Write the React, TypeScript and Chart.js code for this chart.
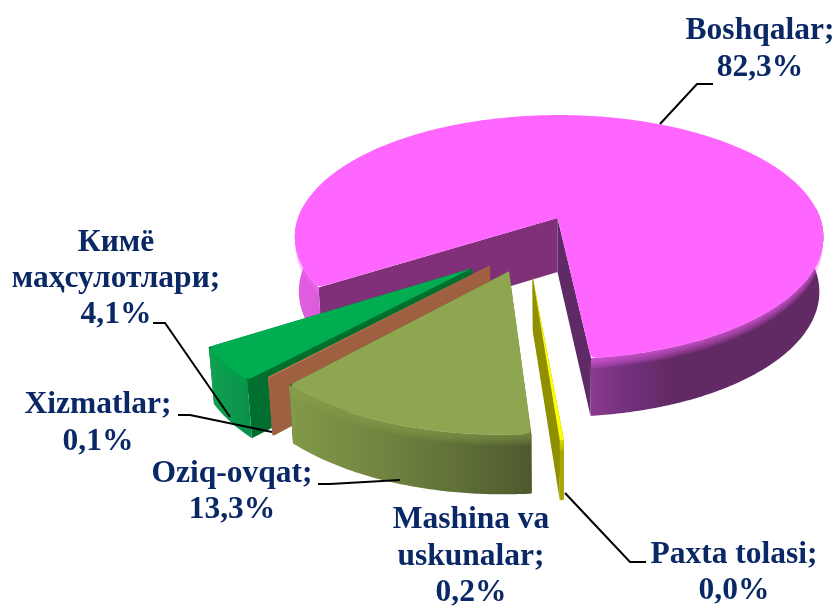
import React, { useEffect, useRef } from "react";
import { Chart, registerables } from "chart.js";

Chart.register(...registerables);

const categories = ["Boshqalar", "Paxta tolasi", "Mashina va uskunalar", "Oziq-ovqat", "Xizmatlar", "Кимё маҳсулотлари"];
const shares = [82.3, 0.0, 0.2, 13.3, 0.1, 4.1];

const labelLines = [
  ["Boshqalar;"],
  ["Paxta tolasi;"],
  ["Mashina va", "uskunalar;"],
  ["Oziq-ovqat;"],
  ["Xizmatlar;"],
  ["Кимё", "маҳсулотлари;"],
];

const explosion = [0.258, 0.22, 0.22, 0.197, 0.196, 0.255];
const topColors = ["#FF66FF", "#FFFF00", "#FFFF00", "#8EA64F", "#C5794F", "#00AD50"];
const wallStart = ["#7F3078", "#8F8F00", "#8F8F00", "#6B7D3D", "#9E6040", "#006F30"];
const wallEnd = ["#5F2A65", "#8F8F00", "#8F8F00", "#4F5C30", "#9E6040", "#006F30"];
const rimStops: [number, string][][] = [
  [[0, "#E25FE2"], [0.55, "#8E3C92"], [0.64, "#70307A"], [0.72, "#622A64"], [1, "#622A64"]],
  [[0, "#A8A800"], [1, "#A8A800"]],
  [[0, "#A8A800"], [1, "#A8A800"]],
  [[0, "#839A49"], [0.5, "#6B7D3D"], [1, "#4D5A2E"]],
  [[0, "#A06242"], [1, "#A06242"]],
  [[0, "#10A252"], [1, "#0A9149"]],
];

const labelCentres = [
  [760, 31, 37],
  [734, 555, 36],
  [471, 520, 36.5],
  [232, 474, 36],
  [98, 405, 37],
  [116, 243, 36],
];

const leaders = [
  [[660, 124], [697, 84], [713, 84]],
  [[565, 493], [630, 562], [646, 562]],
  [],
  [[318, 484], [330, 484], [400, 480]],
  [[178, 415], [190, 415], [272, 432]],
  [[153, 323], [165, 323], [230, 417]],
];

const ORIGIN_X = 557.5, ORIGIN_Y = 218, RADIUS = 261, SQUASH_R = 119;
const P_V = 0.156, P_U = 0.006;

function project(u: number, v: number, z: number) {
  const s = 1 / (1 - P_V * v - P_U * u);
  let x = ORIGIN_X + RADIUS * u * s;
  let y = ORIGIN_Y + SQUASH_R * v * s;
  if (z) {
    y += (34 + 20 * s) * z;
    x = ORIGIN_X + (x - ORIGIN_X) * (1 - 0.015 * z);
  }
  return [x, y];
}

const threeD = {
  id: "threeD",
  beforeDatasetsDraw(chart: any) {
    const ctx = chart.ctx as CanvasRenderingContext2D;
    const arcs = chart.getDatasetMeta(0).data;
    const pinkMid = (arcs[0].startAngle + arcs[0].endAngle) / 2;
    const pinkOff = arcs[0].options.offset / 4 / RADIUS;
    const cu = -pinkOff * Math.cos(pinkMid);
    const cv = -pinkOff * Math.sin(pinkMid);

    const order = [0, 5, 4, 3, 1, 2];
    for (const i of order) {
      const a = arcs[i];
      if (a.endAngle - a.startAngle <= 0) continue;
      const mid = (a.startAngle + a.endAngle) / 2;
      const off = a.options.offset / 4 / RADIUS;
      const ou = cu + off * Math.cos(mid);
      const ov = cv + off * Math.sin(mid);
      const pt = (t: number, z: number, r = 1) => project(ou + r * Math.cos(t), ov + r * Math.sin(t), z);
      const apex = (z: number) => project(ou, ov, z);
      const poly = (pts: number[][], fill: any) => {
        ctx.beginPath();
        pts.forEach((p, k) => (k ? ctx.lineTo(p[0], p[1]) : ctx.moveTo(p[0], p[1])));
        ctx.closePath();
        ctx.fillStyle = fill;
        ctx.fill();
      };
      const samples = (t0: number, t1: number, z: number) => {
        const n = Math.max(2, Math.ceil(Math.abs(t1 - t0) / 0.01));
        const out: number[][] = [];
        for (let k = 0; k <= n; k++) out.push(pt(t0 + ((t1 - t0) * k) / n, z));
        return out;
      };

      // cut walls
      poly([apex(0), pt(a.startAngle, 0), pt(a.startAngle, 1), apex(1)], wallStart[i]);
      poly([apex(0), pt(a.endAngle, 0), pt(a.endAngle, 1), apex(1)], wallEnd[i]);

      // outer rim: only the part that faces the viewer
      const lo = -0.09, hi = Math.PI + 0.09;
      const ranges: number[][] = [];
      for (let w = -2; w <= 2; w++) {
        const s0 = Math.max(a.startAngle, lo + w * 2 * Math.PI);
        const s1 = Math.min(a.endAngle, hi + w * 2 * Math.PI);
        if (s1 > s0) ranges.push([s0, s1]);
      }
      for (const [s0, s1] of ranges) {
        const top = samples(s0, s1, 0);
        const bot = samples(s1, s0, 1);
        const xs = i === 0 ? [293, 822] : [Math.min(...top.map((p) => p[0])), Math.max(...top.map((p) => p[0]))];
        const g = ctx.createLinearGradient(xs[0], 0, xs[1] + 0.01, 0);
        rimStops[i].forEach(([o, c]) => g.addColorStop(o, c));
        poly([...top, ...bot], g);
        // soft bevel under the top edge
        ctx.save();
        ctx.globalAlpha = 0.13;
        for (const z of [0.03, 0.06, 0.09, 0.12, 0.15, 0.18]) {
          poly([...top, ...samples(s1, s0, z)], topColors[i]);
        }
        ctx.restore();
      }

      // top face, with softened outer corners on the wide slices
      const sweep = a.endAngle - a.startAngle;
      if (sweep > 0.1) {
        const d = 0.022;
        const body = samples(a.startAngle + d, a.endAngle - d, 0);
        const c0 = pt(a.startAngle, 0), c1 = pt(a.endAngle, 0);
        const e0 = pt(a.startAngle, 0, 0.975), e1 = pt(a.endAngle, 0, 0.975);
        const ap = apex(0);
        ctx.beginPath();
        ctx.moveTo(ap[0], ap[1]);
        ctx.lineTo(e0[0], e0[1]);
        ctx.quadraticCurveTo(c0[0], c0[1], body[0][0], body[0][1]);
        body.forEach((p) => ctx.lineTo(p[0], p[1]));
        ctx.quadraticCurveTo(c1[0], c1[1], e1[0], e1[1]);
        ctx.closePath();
        ctx.fillStyle = topColors[i];
        ctx.fill();
      } else {
        poly([apex(0), ...samples(a.startAngle, a.endAngle, 0)], topColors[i]);
      }
    }
    return false;
  },
  afterDraw(chart: any) {
    const ctx = chart.ctx as CanvasRenderingContext2D;
    ctx.save();
    ctx.strokeStyle = "#000000";
    ctx.lineWidth = 2;
    leaders.forEach((line) => {
      if (!line.length) return;
      ctx.beginPath();
      line.forEach((p, k) => (k ? ctx.lineTo(p[0], p[1]) : ctx.moveTo(p[0], p[1])));
      ctx.stroke();
    });
    ctx.font = 'bold 31.5px "Liberation Serif"';
    ctx.fillStyle = "#0B2866";
    ctx.textAlign = "center";
    ctx.textBaseline = "middle";
    categories.forEach((_, i) => {
      const lines = [...labelLines[i], shares[i].toFixed(1).replace(".", ",") + "%"];
      const [x, y, lh] = labelCentres[i];
      lines.forEach((t, k) => ctx.fillText(t, x, y + k * lh));
    });
    ctx.restore();
  },
};

export default function App() {
  const ref = useRef<HTMLCanvasElement>(null);
  useEffect(() => {
    document.body.style.margin = "0";
    const chart = new Chart(ref.current as HTMLCanvasElement, {
      type: "pie",
      data: {
        labels: categories,
        datasets: [
          {
            data: shares,
            backgroundColor: topColors,
            borderWidth: 0,
            offset: explosion.map((e) => e * 4 * RADIUS),
          },
        ],
      },
      options: {
        responsive: false,
        animation: false,
        rotation: 237.5,
        radius: RADIUS,
        plugins: { legend: { display: false }, tooltip: { enabled: false } },
      },
      plugins: [threeD],
    } as any);
    return () => chart.destroy();
  }, []);
  return <canvas ref={ref} width={838} height={608} style={{ display: "block" }} />;
}
